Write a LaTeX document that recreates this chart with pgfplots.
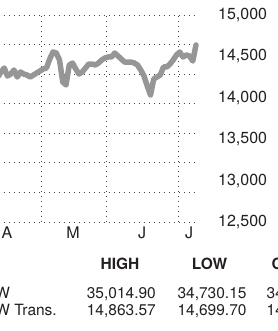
\documentclass[border=0pt]{standalone}
\usepackage{pgfplots}
\pgfplotsset{compat=1.18}
\usepackage{fontspec}
\setmainfont{TeX Gyre Heros}
\definecolor{txt}{RGB}{35,31,32}
\definecolor{linegray}{RGB}{150,150,150}
\definecolor{gridc}{RGB}{70,70,70}
\begin{document}
\begin{tikzpicture}[x=1pt,y=1pt]
\useasboundingbox (0,0) rectangle (277,331);
\clip (0,0) rectangle (277,331);
\begin{axis}[
  at={(-41.25pt,109pt)}, anchor=south west,
  scale only axis, width=238.55pt, height=207pt,
  xmin=-5, xmax=68.4, ymin=12500, ymax=15000,
  axis line style={draw=none},
  major tick length=0pt,
  clip=false,
  scaled y ticks=false,
  /pgf/number format/assume math mode=true,
  /pgf/number format/1000 sep={,},
  ytick={12500,13000,13500,14000,14500,15000},
  yticklabel pos=right,
  yticklabel style={anchor=west, inner sep=0pt, xshift=20.7pt, text=txt, font=\fontsize{16}{16}\selectfont},
  extra y ticks={12500,12857.143,13214.286,13571.429,13928.571,14285.714,14642.857,15000},
  extra y tick labels={},
  extra y tick style={grid=major, major tick length=0pt},
  xtick={20.5,40.5,62.5},
  xticklabels={},
  xmajorgrids,
  extra x ticks={9.85,30.15,51.4,65.85},
  extra x tick labels={A,M,J,J},
  extra x tick style={grid=none, major tick length=0pt},
  xticklabel style={anchor=north, inner sep=0pt, yshift=-5pt, text=txt, font=\fontsize{16}{16}\selectfont},
  grid style={gridc, line width=0.9pt, dash pattern=on 0.9pt off 4.1pt},
]
\addplot[linegray, line width=5.5pt, line join=round, line cap=round] coordinates {
(0,14312)(1,14263)(2,14336)(3,14287)(4,14239)(5,14324)(6,14287)(7,14251)
(8,14312)(9,14360)(10,14263)(11,14287)(12,14336)(13,14251)(14,14312)(15,14287)
(16,14275)(17,14251)(18,14275)(19,14300)(20,14324)(21,14348)(22,14360)(23,14469)
(24,14553)(25,14541)(26,14457)(27,14191)(28,14155)(29,14396)(30,14420)(31,14348)
(32,14287)(33,14312)(34,14360)(35,14408)(36,14408)(37,14396)(38,14420)(39,14457)
(40,14481)(41,14493)(42,14493)(43,14541)(44,14505)(45,14469)(46,14432)(47,14432)
(48,14432)(49,14420)(50,14396)(51,14336)(52,14263)(53,14143)(54,14034)(55,14227)
(56,14251)(57,14275)(58,14372)(59,14372)(60,14408)(61,14457)(62,14517)(63,14553)
(64,14493)(65,14517)(66,14505)(67,14444)(68,14638)
};
\end{axis}
\begin{scope}[every node/.style={inner sep=0pt, text=txt, font=\fontsize{15.5}{18}\selectfont}]
\node[anchor=base] at (120,61) {\bfseries HIGH};
\node[anchor=base] at (209.5,61) {\bfseries LOW};
\node[anchor=base west] at (271.5,61) {\bfseries CLOSE};
\node[anchor=base west] at (-4.8,32) {\llap{DO}W};
\node[anchor=base east] at (156,32) {35,014.90};
\node[anchor=base east] at (246.7,32) {34,730.15};
\node[anchor=base west] at (266.5,32) {34,996.18};
\node[anchor=base west] at (-4.8,15) {\llap{DO}W Trans.};
\node[anchor=base east] at (156,15) {14,863.57};
\node[anchor=base east] at (246.7,15) {14,699.70};
\node[anchor=base west] at (266.5,15) {14,764.35};
\end{scope}
\end{tikzpicture}
\end{document}
